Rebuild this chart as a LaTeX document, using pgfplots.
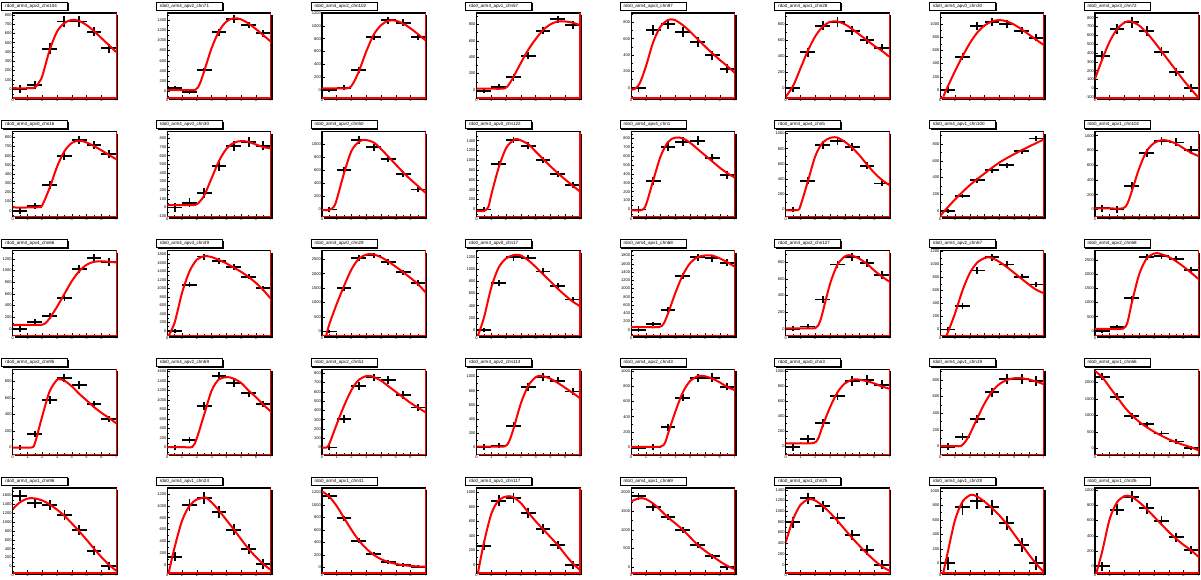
\documentclass[border=0pt]{standalone}
\usepackage{pgfplots}
\pgfplotsset{compat=1.18}
\usepackage{fontspec}
\setmainfont{Liberation Sans}
\pgfplotsset{panel/.style={
 width=77.6pt, height=63.75pt, scale only axis, anchor=south west,
 xmin=0, xmax=7, xtick={0,...,7}, minor x tick num=1, minor y tick num=1,
 tick align=inside, tick pos=left, major tick length=2pt, minor tick length=1.1pt,
 axis line style={black, line width=0.9pt},
 every tick/.style={black, line width=0.35pt},
 tick label style={font=\fontsize{3}{3.4}\selectfont, inner sep=0.6pt},
 /pgf/number format/assume math mode=true, /pgf/number format/1000 sep={},
 scaled y ticks=false, clip mode=individual,
 axis background/.style={fill=white},
}}
\newcommand\panel[8]{%
 \pgfmathsetmacro\fl{(12.7+154.6*#1)*0.75}%
 \pgfmathsetmacro\fb{(579-98-118.75*#2)*0.75}%
 \pgfmathsetmacro\fr{\fl+77.6}%
 \pgfmathsetmacro\ft{\fb+63.75}%
 \fill[black] (\fl pt+1.5pt,\fb pt-1.5pt) rectangle (\fr pt+1.5pt,\ft pt-1.5pt);
 \begin{axis}[panel, at={(\fl pt,\fb pt)}, ymin=#4, ymax=#5, ytick distance=#6]
  \addplot[draw=none, mark=none, error bars/.cd, x dir=both, x fixed=0.5, y dir=both, y explicit,
    error bar style={draw=black,solid,line width=1.4pt}, error mark=none]
    table[header=false,row sep=\\,x index=0,y index=1,y error index=2]{#7};
  \addplot[red, line width=1.5pt, smooth] coordinates {#8};
  \draw[red,line width=0.9pt] (rel axis cs:0,0)--(rel axis cs:1,0)--(rel axis cs:1,1);
 \end{axis}
 \pgfmathsetmacro\tx{\fl-8.25}%
 \pgfmathsetmacro\ty{\ft+2.25}%
 \pgfmathsetmacro\txr{\tx+49.5}%
 \pgfmathsetmacro\tyt{\ty+6}%
 \fill[black] (\tx pt+1pt,\ty pt-1pt) rectangle (\txr pt+1pt,\tyt pt-1pt);
 \draw[black,line width=0.4pt,fill=white] (\tx pt,\ty pt) rectangle (\txr pt,\tyt pt);
 \node[anchor=west,inner sep=0pt,font=\fontsize{3.4}{3.6}\selectfont] at (\tx pt+2.5pt,\ty pt+3pt) {#3};
}
\begin{document}
\begin{tikzpicture}
\useasboundingbox (0,0) rectangle (900.75pt,434.25pt);
\fill[white] (0,0) rectangle (900.75pt,434.25pt);
% row 0
\panel{0}{0}{rdo0\_arm4\_apv2\_chn104}{-95}{820}{100}
 {0.5 0 45\\ 1.5 46 40\\ 2.5 437 55\\ 3.5 728 55\\ 4.5 728 55\\ 5.5 620 50\\ 6.5 441 50\\}
 {(0,10)(1,10)(1.4,12)(1.6,30)(1.8,80)(2,140)(2.5,420)(3,620)(3.5,712)(4,746)(4.5,735)(5,690)(5.5,625)(6,550)(6.5,475)(7,400)}
\panel{1}{0}{rdo0\_arm4\_apv2\_chn71}{-131}{1537}{200}
 {0.5 59 40\\ 1.5 -8 40\\ 2.5 412 55\\ 3.5 1157 65\\ 4.5 1420 70\\ 5.5 1300 65\\ 6.5 1137 65\\}
 {(0,26)(1,26)(1.9,30)(2.2,150)(2.5,400)(3,850)(3.5,1180)(4,1370)(4.5,1435)(5,1410)(5.5,1330)(6,1220)(6.5,1100)(7,975)}
\panel{2}{0}{rdo0\_arm4\_apv2\_chn102}{-124}{1200}{200}
 {0.5 0 35\\ 1.5 36 35\\ 2.5 311 45\\ 3.5 829 50\\ 4.5 1088 55\\ 5.5 1047 55\\ 6.5 829 50\\}
 {(0,26)(1,26)(1.8,30)(2.1,100)(2.5,290)(3,600)(3.5,860)(4,1010)(4.5,1080)(5,1080)(5.5,1035)(6,960)(6.5,870)(7,777)}
\panel{3}{0}{rdo0\_arm4\_apv1\_chn57}{-97}{938}{200}
 {0.5 -8 30\\ 1.5 37 35\\ 2.5 154 40\\ 3.5 418 40\\ 4.5 722 45\\ 5.5 860 45\\ 6.5 790 45\\}
 {(0,16)(1,16)(1.9,20)(2.2,70)(2.5,160)(3,330)(3.5,490)(4,620)(4.5,730)(5,800)(5.5,835)(6,835)(6.5,820)(7,790)}
\panel{4}{0}{rdo0\_arm4\_apv3\_chn97}{-126}{914}{200}
 {0.5 0 50\\ 1.5 706 60\\ 2.5 779 65\\ 3.5 677 60\\ 4.5 563 60\\ 5.5 400 55\\ 6.5 229 55\\}
 {(0,-25)(0.3,-10)(0.6,60)(1,260)(1.5,560)(2,750)(2.5,830)(2.7,836)(3,825)(3.5,765)(4,685)(4.5,595)(5,505)(5.5,420)(6,340)(6.5,265)(7,184)}
\panel{5}{0}{rdo0\_arm4\_apv1\_chn28}{-121}{941}{200}
 {0.5 0 45\\ 1.5 450 55\\ 2.5 783 55\\ 3.5 825 60\\ 4.5 720 55\\ 5.5 604 55\\ 6.5 500 50\\}
 {(0,-105)(0.5,30)(1,250)(1.5,470)(2,650)(2.5,770)(3,830)(3.5,835)(4,800)(4.5,740)(5,670)(5.5,600)(6,530)(6.5,470)(7,395)}
\panel{6}{0}{rdo0\_arm4\_apv0\_chn30}{-121}{1167}{200}
 {0.5 0 40\\ 1.5 505 55\\ 2.5 970 60\\ 3.5 1035 60\\ 4.5 995 60\\ 5.5 899 55\\ 6.5 793 55\\}
 {(0.2,-100)(0.5,50)(1,290)(1.5,510)(2,710)(2.5,870)(3,980)(3.5,1040)(4,1060)(4.5,1040)(5,990)(5.5,920)(6,840)(6.5,760)(7,682)}
\panel{7}{0}{rdo0\_arm4\_apv3\_chn72}{-110}{853}{100}
 {0.5 369 50\\ 1.5 668 55\\ 2.5 748 60\\ 3.5 653 55\\ 4.5 415 50\\ 5.5 188 45\\ 6.5 0 45\\}
 {(0,105)(0.5,330)(1,530)(1.5,670)(2,745)(2.3,760)(2.5,755)(3,710)(3.5,630)(4,530)(4.5,420)(5,310)(5.5,200)(6,90)(6.5,-10)(7,-105)}
% row 1
\panel{0}{1}{rdo0\_arm4\_apv0\_chn16}{-65}{862}{100}
 {0.5 0 30\\ 1.5 51 35\\ 2.5 280 40\\ 3.5 596 40\\ 4.5 770 45\\ 5.5 716 45\\ 6.5 618 40\\}
 {(0,36)(1,36)(1.8,40)(2,60)(2.5,250)(3,480)(3.5,650)(4,740)(4.5,765)(5,745)(5.5,705)(6,660)(6.5,610)(7,563)}
\panel{1}{1}{rdo0\_arm4\_apv0\_chn30}{-108}{878}{100}
 {0.5 0 50\\ 1.5 55 55\\ 2.5 170 55\\ 3.5 480 55\\ 4.5 716 60\\ 5.5 762 60\\ 6.5 716 55\\}
 {(0,28)(1,28)(1.9,30)(2.2,70)(2.5,140)(3,340)(3.5,540)(4,680)(4.5,750)(5,770)(5.5,760)(6,730)(6.5,700)(7,685)}
\panel{2}{1}{rdo0\_arm4\_apv0\_chn50}{-112}{1195}{200}
 {0.5 0 40\\ 1.5 607 50\\ 2.5 1069 55\\ 3.5 956 50\\ 4.5 777 50\\ 5.5 545 45\\ 6.5 308 45\\}
 {(0,-10)(0.5,-5)(0.8,40)(1,150)(1.5,560)(2,900)(2.5,1040)(2.9,1070)(3.5,1030)(4,930)(4.5,810)(5,690)(5.5,570)(6,460)(6.5,360)(7,257)}
\panel{3}{1}{rdo0\_arm4\_apv0\_chn122}{-149}{1583}{200}
 {0.5 0 50\\ 1.5 918 60\\ 2.5 1416 70\\ 3.5 1300 65\\ 4.5 1008 60\\ 5.5 722 55\\ 6.5 498 55\\}
 {(0,-35)(0.5,-30)(0.8,50)(1,300)(1.5,850)(2,1250)(2.5,1410)(2.8,1430)(3.5,1330)(4,1180)(4.5,1030)(5,880)(5.5,740)(6,610)(6.5,485)(7,365)}
\panel{4}{1}{rdo0\_arm4\_apv4\_chn1}{-82}{875}{100}
 {0.5 0 35\\ 1.5 323 45\\ 2.5 707 50\\ 3.5 763 50\\ 4.5 774 50\\ 5.5 575 45\\ 6.5 387 45\\}
 {(0,-8)(0.7,-8)(1,50)(1.5,330)(2,600)(2.5,760)(3,810)(3.5,800)(4,750)(4.5,680)(5,610)(5.5,540)(6,470)(6.5,410)(7,360)}
\panel{5}{1}{rdo0\_arm4\_apv4\_chn5}{-96}{1022}{200}
 {0.5 0 35\\ 1.5 378 45\\ 2.5 847 50\\ 3.5 904 50\\ 4.5 825 50\\ 5.5 575 45\\ 6.5 342 40\\}
 {(0,-9)(0.8,-9)(1,50)(1.5,370)(2,700)(2.5,880)(3,940)(3.3,950)(3.5,945)(4,890)(4.5,810)(5,710)(5.5,590)(6,480)(6.5,390)(7,321)}
\panel{6}{1}{rdo0\_arm4\_apv1\_chn100}{-68}{947}{200}
 {0.5 0 20\\ 1.5 179 25\\ 2.5 370 30\\ 3.5 490 30\\ 4.5 549 30\\ 5.5 712 30\\ 6.5 867 30\\}
 {(0,-55)(1,140)(2,310)(3,450)(4,580)(5,680)(6,770)(7,855)}
\panel{7}{1}{rdo0\_arm4\_apv1\_chn102}{-99}{1054}{200}
 {0.5 14 50\\ 1.5 0 50\\ 2.5 322 45\\ 3.5 760 55\\ 4.5 932 55\\ 5.5 909 55\\ 6.5 806 50\\}
 {(0,14)(1,14)(1.9,16)(2.2,80)(2.5,250)(3,560)(3.5,790)(4,900)(4.5,940)(5,930)(5.5,890)(6,830)(6.5,770)(7,725)}
% row 2
\panel{0}{2}{rdo0\_arm4\_apv4\_chn66}{-113}{1344}{200}
 {0.5 0 50\\ 1.5 114 50\\ 2.5 217 55\\ 3.5 537 60\\ 4.5 1029 65\\ 5.5 1211 70\\ 6.5 1154 70\\}
 {(0,69)(1,69)(2,72)(2.3,120)(2.5,180)(3,380)(3.5,600)(4,820)(4.5,990)(5,1100)(5.5,1150)(6,1160)(6.5,1150)(7,1140)}
\panel{1}{2}{rdo0\_arm4\_apv4\_chn49}{-108}{1894}{200}
 {0.5 0 45\\ 1.5 1084 60\\ 2.5 1752 70\\ 3.5 1642 70\\ 4.5 1500 65\\ 5.5 1280 60\\ 6.5 1005 60\\}
 {(0.1,-105)(0.5,200)(1,900)(1.5,1400)(2,1680)(2.5,1760)(2.6,1765)(3,1740)(3.5,1670)(4,1590)(4.5,1490)(5,1390)(5.5,1270)(6,1130)(6.5,960)(7,760)}
\panel{2}{2}{rdo0\_arm4\_apv0\_chn29}{-138}{2803}{500}
 {0.5 0 60\\ 1.5 1498 80\\ 2.5 2547 100\\ 3.5 2630 100\\ 4.5 2398 100\\ 5.5 2052 90\\ 6.5 1682 90\\}
 {(0.3,-130)(0.5,250)(1,950)(1.5,1580)(2,2150)(2.5,2520)(3,2660)(3.3,2680)(3.5,2670)(4,2570)(4.5,2420)(5,2240)(5.5,2050)(6,1850)(6.5,1640)(7,1360)}
\panel{3}{2}{rdo0\_arm4\_apv0\_chn17}{-92}{1311}{200}
 {0.5 0 35\\ 1.5 770 50\\ 2.5 1200 55\\ 3.5 1188 55\\ 4.5 964 50\\ 5.5 721 50\\ 6.5 502 45\\}
 {(0.1,-90)(0.5,200)(1,700)(1.5,1030)(2,1180)(2.5,1235)(2.8,1240)(3,1230)(3.5,1150)(4,1040)(4.5,920)(5,800)(5.5,680)(6,570)(6.5,470)(7,391)}
\panel{4}{2}{rdo0\_arm4\_apv1\_chn68}{-136}{1921}{200}
 {0.5 0 50\\ 1.5 138 55\\ 2.5 484 60\\ 3.5 1300 75\\ 4.5 1759 85\\ 5.5 1735 85\\ 6.5 1621 85\\}
 {(0,65)(1,65)(1.9,70)(2.2,150)(2.5,400)(3,900)(3.5,1330)(4,1620)(4.5,1760)(5,1800)(5.3,1805)(5.5,1800)(6,1730)(6.5,1640)(7,1530)}
\panel{5}{2}{rdo0\_arm4\_apv2\_chn127}{-79}{941}{200}
 {0.5 0 30\\ 1.5 29 30\\ 2.5 353 40\\ 3.5 773 45\\ 4.5 860 50\\ 5.5 792 50\\ 6.5 648 45\\}
 {(0,8)(1,8)(2,10)(2.3,80)(2.5,200)(3,540)(3.5,770)(4,870)(4.3,885)(4.5,880)(5,840)(5.5,780)(6,700)(6.5,630)(7,568)}
\panel{6}{2}{rdo0\_arm4\_apv2\_chn67}{-92}{1215}{200}
 {0.5 0 35\\ 1.5 358 45\\ 2.5 907 55\\ 3.5 1112 55\\ 4.5 1000 55\\ 5.5 804 50\\ 6.5 692 45\\}
 {(0.4,-90)(0.5,-50)(1,250)(1.5,600)(2,870)(2.5,1030)(3,1100)(3.2,1110)(3.5,1100)(4,1040)(4.5,960)(5,870)(5.5,780)(6,690)(6.5,610)(7,558)}
\panel{7}{2}{rdo0\_arm4\_apv2\_chn68}{-162}{2830}{500}
 {0.5 0 60\\ 1.5 130 70\\ 2.5 1151 90\\ 3.5 2594 110\\ 4.5 2630 110\\ 5.5 2535 110\\ 6.5 2147 100\\}
 {(0,70)(1,70)(1.9,80)(2.2,300)(2.5,1000)(3,2000)(3.5,2550)(4,2720)(4.2,2740)(4.5,2700)(5,2600)(5.5,2450)(6,2260)(6.5,2050)(7,1830)}
% row 3
\panel{0}{3}{rdo0\_arm4\_apv2\_chn95}{-81}{947}{200}
 {0.5 0 35\\ 1.5 165 40\\ 2.5 576 45\\ 3.5 839 50\\ 4.5 758 50\\ 5.5 524 45\\ 6.5 346 40\\}
 {(0,0)(1,0)(1.3,2)(1.5,50)(2,380)(2.5,680)(3,820)(3.2,825)(3.5,810)(4,740)(4.5,650)(5,570)(5.5,490)(6,420)(6.5,360)(7,294)}
\panel{1}{3}{rdo0\_arm4\_apv2\_chn69}{-141}{1648}{200}
 {0.5 0 60\\ 1.5 152 65\\ 2.5 874 75\\ 3.5 1508 80\\ 4.5 1355 80\\ 5.5 1144 75\\ 6.5 918 70\\}
 {(0,10)(1,10)(1.7,15)(2,200)(2.5,700)(3,1200)(3.5,1440)(4,1480)(4.1,1485)(4.5,1450)(5,1360)(5.5,1200)(6,1060)(6.5,900)(7,760)}
\panel{2}{3}{rdo0\_arm4\_apv2\_chn51}{-72}{843}{100}
 {0.5 0 30\\ 1.5 308 40\\ 2.5 663 40\\ 3.5 754 40\\ 4.5 728 40\\ 5.5 566 40\\ 6.5 431 35\\}
 {(0,0)(0.3,0)(0.5,40)(1,250)(1.5,450)(2,620)(2.5,730)(3,770)(3.2,772)(3.5,760)(4,720)(4.5,660)(5,600)(5.5,540)(6,480)(6.5,430)(7,380)}
\panel{3}{3}{rdo0\_arm4\_apv2\_chn113}{-99}{1103}{200}
 {0.5 0 40\\ 1.5 24 40\\ 2.5 301 50\\ 3.5 849 55\\ 4.5 990 55\\ 5.5 943 55\\ 6.5 788 50\\}
 {(0,10)(1,10)(1.9,12)(2.2,80)(2.5,260)(3,620)(3.5,870)(4,990)(4.3,1010)(4.5,1005)(5,970)(5.5,910)(6,840)(6.5,770)(7,693)}
\panel{4}{3}{rdo0\_arm4\_apv2\_chn43}{-92}{1022}{200}
 {0.5 -10 40\\ 1.5 4 40\\ 2.5 262 45\\ 3.5 650 50\\ 4.5 904 55\\ 5.5 913 55\\ 6.5 795 50\\}
 {(0,5)(1,5)(2,8)(2.3,60)(2.5,180)(3,470)(3.5,720)(4,870)(4.5,930)(4.8,935)(5,930)(5.5,900)(6,850)(6.5,790)(7,750)}
\panel{5}{3}{rdo0\_arm4\_apv0\_chn3}{-112}{1031}{200}
 {0.5 -15 50\\ 1.5 94 50\\ 2.5 305 55\\ 3.5 677 60\\ 4.5 874 65\\ 5.5 887 65\\ 6.5 820 60\\}
 {(0,36)(1,36)(1.9,40)(2.2,100)(2.5,270)(3,520)(3.5,720)(4,840)(4.5,890)(4.8,895)(5,890)(5.5,870)(6,840)(6.5,800)(7,770)}
\panel{6}{3}{rdo0\_arm4\_apv1\_chn19}{-92}{928}{200}
 {0.5 0 45\\ 1.5 120 45\\ 2.5 331 50\\ 3.5 652 55\\ 4.5 808 60\\ 5.5 808 60\\ 6.5 788 55\\}
 {(0,5)(1,5)(1.4,8)(1.7,60)(2,150)(2.5,340)(3,520)(3.5,660)(4,750)(4.5,800)(5,820)(5.3,822)(5.5,820)(6,805)(6.5,780)(7,748)}
\panel{7}{3}{rdo0\_arm4\_apv1\_chn66}{-182}{2394}{500}
 {0.5 2172 100\\ 1.5 1566 95\\ 2.5 979 85\\ 3.5 727 80\\ 4.5 445 75\\ 5.5 203 70\\ 6.5 0 60\\}
 {(0,2342)(0.5,2150)(1,1850)(1.5,1550)(2,1250)(2.5,1000)(3,800)(3.5,640)(4,500)(4.5,380)(5,270)(5.5,180)(6,100)(6.5,30)(7,-60)}
% row 4
\panel{0}{4}{rdo0\_arm4\_apv1\_chn96}{-151}{1770}{200}
 {0.5 1595 120\\ 1.5 1430 120\\ 2.5 1385 120\\ 3.5 1167 115\\ 4.5 819 110\\ 5.5 352 100\\ 6.5 0 90\\}
 {(0,1295)(0.5,1450)(1,1530)(1.3,1540)(1.5,1535)(2,1490)(2.5,1400)(3,1280)(3.5,1140)(4,970)(4.5,790)(5,600)(5.5,400)(6,210)(6.5,40)(7,-100)}
\panel{1}{4}{rdo0\_arm4\_apv1\_chn24}{-141}{1304}{200}
 {0.5 136 80\\ 1.5 1020 100\\ 2.5 1129 105\\ 3.5 901 100\\ 4.5 595 95\\ 5.5 267 85\\ 6.5 12 80\\}
 {(0.1,-130)(0.5,300)(1,750)(1.5,1000)(2,1110)(2.5,1140)(2.6,1143)(3,1060)(3.5,920)(4,760)(4.5,600)(5,430)(5.5,270)(6,130)(6.5,10)(7,-90)}
\panel{2}{4}{rdo0\_arm4\_apv1\_chn41}{-91}{1269}{200}
 {0.5 1146 50\\ 1.5 784 45\\ 2.5 427 40\\ 3.5 213 35\\ 4.5 90 30\\ 5.5 37 25\\ 6.5 10 25\\}
 {(0,1216)(0.5,1130)(1,980)(1.5,790)(2,600)(2.5,430)(3,300)(3.5,200)(4,130)(4.5,85)(5,55)(5.5,35)(6,22)(6.5,14)(7,10)}
\panel{3}{4}{rdo0\_arm4\_apv1\_chn117}{-115}{1058}{200}
 {0.5 262 60\\ 1.5 883 75\\ 2.5 920 75\\ 3.5 709 70\\ 4.5 492 65\\ 5.5 272 60\\ 6.5 0 55\\}
 {(0.1,-110)(0.5,300)(1,700)(1.5,890)(2,940)(2.2,945)(2.5,930)(3,850)(3.5,720)(4,600)(4.5,490)(5,380)(5.5,270)(6,140)(6.5,20)(7,-73)}
\panel{4}{4}{rdo0\_arm4\_apv1\_chn69}{-152}{2117}{500}
 {0.5 1896 90\\ 1.5 1602 90\\ 2.5 1335 85\\ 3.5 995 85\\ 4.5 595 80\\ 5.5 294 70\\ 6.5 0 60\\}
 {(0,1762)(0.5,1840)(0.7,1845)(1,1820)(1.5,1700)(2,1520)(2.5,1330)(3,1170)(3.5,1000)(4,800)(4.5,600)(5,440)(5.5,300)(6,160)(6.5,40)(7,-50)}
\panel{5}{4}{rdo0\_arm4\_apv1\_chn25}{-155}{1434}{200}
 {0.5 793 100\\ 1.5 1242 105\\ 2.5 1092 105\\ 3.5 867 100\\ 4.5 561 95\\ 5.5 275 90\\ 6.5 0 85\\}
 {(0,419)(0.5,850)(1,1120)(1.5,1220)(1.7,1225)(2,1200)(2.5,1100)(3,970)(3.5,820)(4,660)(4.5,500)(5,350)(5.5,210)(6,80)(6.5,-30)(7,-110)}
\panel{6}{4}{rdo0\_arm4\_apv1\_chn28}{-134}{1039}{200}
 {0.5 0 90\\ 1.5 773 100\\ 2.5 864 110\\ 3.5 773 105\\ 4.5 556 100\\ 5.5 253 95\\ 6.5 4 90\\}
 {(0.2,-130)(0.5,150)(1,600)(1.5,850)(2,940)(2.2,945)(2.5,920)(3,850)(3.5,760)(4,660)(4.5,540)(5,400)(5.5,260)(6,120)(6.5,-10)(7,-120)}
\panel{7}{4}{rdo0\_arm4\_apv1\_chn26}{-88}{1026}{200}
 {0.5 0 60\\ 1.5 741 70\\ 2.5 912 75\\ 3.5 760 70\\ 4.5 597 65\\ 5.5 380 60\\ 6.5 214 55\\}
 {(0.1,-85)(0.5,200)(1,620)(1.5,840)(2,920)(2.2,925)(2.5,910)(3,840)(3.5,750)(4,650)(4.5,550)(5,450)(5.5,360)(6,280)(6.5,210)(7,126)}
\end{tikzpicture}
\end{document}
